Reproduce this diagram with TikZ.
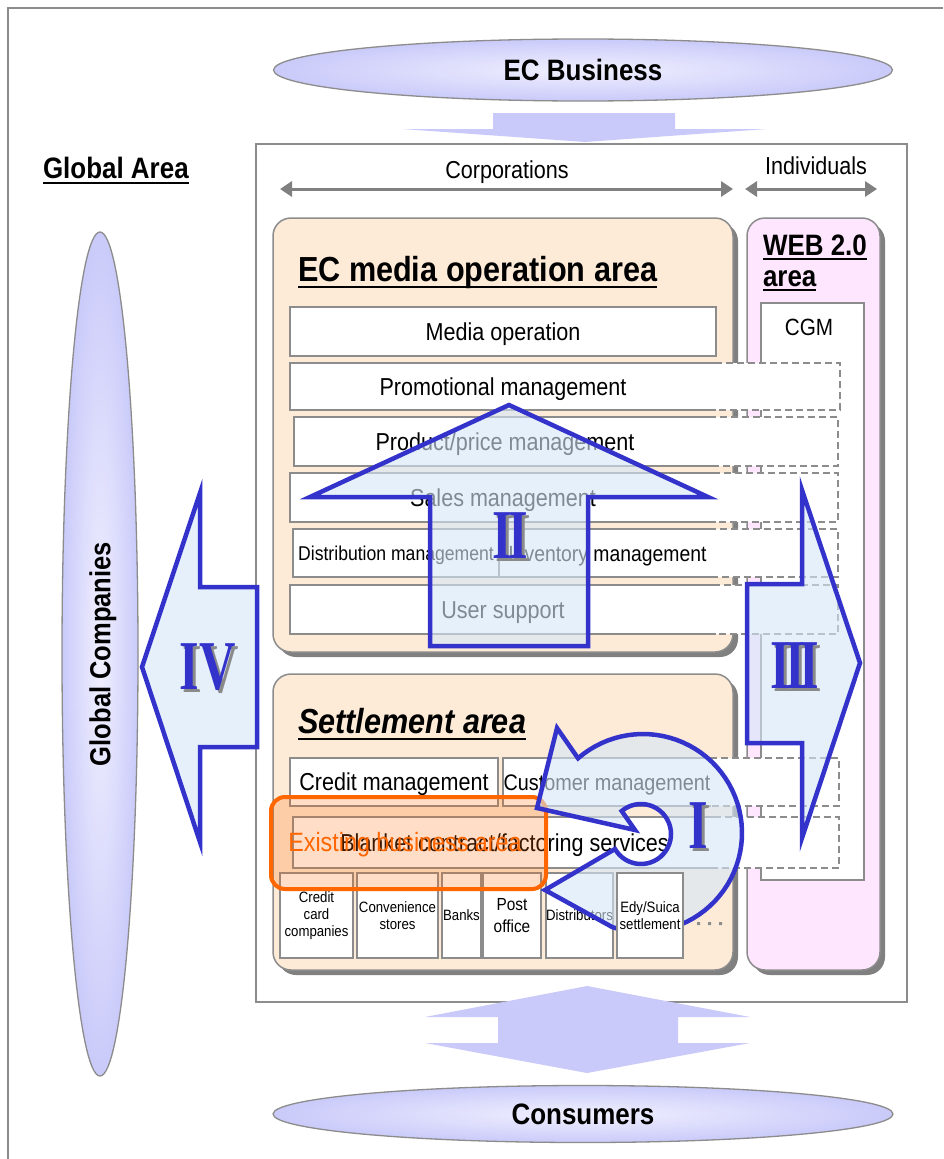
\documentclass[tikz,border=0pt]{standalone}
\usepackage{fontspec}
\setmainfont{Liberation Sans}[FakeStretch=0.88]
\newfontfamily\romanfont{Liberation Serif}[FakeStretch=0.72]
\usetikzlibrary{shapes.geometric,arrows.meta,shadows}

\definecolor{lav}{HTML}{CACAFA}
\definecolor{lavlight}{HTML}{F0F0FF}
\definecolor{peach}{HTML}{FDEBD8}
\definecolor{pinkarea}{HTML}{FFE6FF}
\definecolor{edgegray}{HTML}{8C8C8C}
\definecolor{shadowgray}{HTML}{808080}
\definecolor{arrowblue}{HTML}{3333CC}
\definecolor{arrowfill}{HTML}{D5E6F7}
\definecolor{exorange}{HTML}{FF6600}
\definecolor{numshadow}{HTML}{8A8A8A}

% a node spanning the rectangle (x0,y0)-(x1,y1), in picture units
\newcommand\spannode[6]{%
  \node[#1, minimum width={(#5-#3)*1pt}, minimum height={(#6-#4)*1pt}]
    (#2) at ({(#3+#5)/2},{(#4+#6)/2})}
% solid top, left and bottom edges of a row that continues to the right
\newcommand\openedge[1]{%
  \draw[rowedge] (#1.north east) -- (#1.north west) -- (#1.south west) -- (#1.south east);}

\tikzset{
  every node/.style={inner sep=0pt, outer sep=0pt},
  txt/.style={font=\fontsize{24.5}{28}\selectfont, text height=19.6pt, text depth=2pt},
  txtm/.style={font=\fontsize{22.5}{26}\selectfont, text height=18pt, text depth=1.9pt},
  txtd/.style={font=\fontsize{20}{24}\selectfont, text height=16pt, text depth=1.7pt},
  txtsm/.style={font=\fontsize{15}{17}\selectfont, align=center},
  txtpo/.style={font=\fontsize{17.5}{22}\selectfont, align=center},
  headtxt/.style={font=\bfseries\fontsize{29.5}{34}\selectfont, text height=23.6pt, text depth=2.5pt},
  areatitle/.style={font=\bfseries\fontsize{34.8}{40}\selectfont, anchor=base west},
  settitle/.style={font=\bfseries\itshape\fontsize{34.8}{40}\selectfont, anchor=base west},
  webtitle/.style={font=\bfseries\fontsize{29.5}{34}\selectfont, anchor=base west},
  cell/.style={draw=edgegray, line width=1.5pt, fill=white},
  rowedge/.style={draw=edgegray, line width=1.5pt},
  extcell/.style={draw=edgegray, line width=1.5pt, dash pattern=on 7pt off 4pt, fill=white},
  area/.style={draw=edgegray, line width=1.5pt, rounded corners=18pt,
    drop shadow={shadow xshift=5pt, shadow yshift=-5pt, fill=shadowgray, opacity=1}},
  globe/.style={ellipse, draw=edgegray, line width=1.3pt, inner color=lavlight, outer color=lav},
  blockarrow/.style={draw=arrowblue, line width=4.5pt, line join=miter, miter limit=20,
    fill=arrowfill, fill opacity=0.6},
  lavarrow/.style={fill=lav},
  span/.style={draw=shadowgray, line width=3pt, <->, >={Triangle[length=12pt,width=15pt]}},
  ul/.style={line width=2.2pt},
  numeral/.style={font=\romanfont\bfseries\fontsize{70}{70}\selectfont,
    text height=46pt, text depth=0pt, text=arrowblue},
  numeralshadow/.style={numeral, text=numshadow},
  exist/.style={draw=exorange, line width=4pt, rounded corners=14pt, fill=exorange, fill opacity=0.22},
}

\begin{document}
\begin{tikzpicture}[x=1pt,y=-1pt]
\useasboundingbox (0,0) rectangle (943,1159);
\fill[white] (0,0) rectangle (943,1159);
% outer frame
\draw[edgegray, line width=1.5pt] (943,8) -- (8,8) -- (8,1159);

% EC business on top, flowing down into the stage
\node[globe, headtxt, minimum width=619pt, minimum height=62pt] (ecbiz) at (583,70) {EC Business};
\fill[lavarrow] (493,113) -- (675,113) -- (675,129) -- (767,129) -- (585,142) -- (402,129) -- (493,129) -- cycle;

\node[webtitle] (globalarea) at (43,178) {Global Area};
\draw[ul] ([yshift=-5pt]globalarea.base west) -- ([yshift=-5pt]globalarea.base east);

\node[globe, rotate=90, font=\bfseries\fontsize{29}{34}\selectfont, text height=23pt, text depth=2.4pt,
  minimum width=844pt, minimum height=76pt] (globalco) at (100,654) {Global Companies};

% the stage
\spannode{draw=edgegray, line width=1.5pt, fill=white}{stage}{256}{144}{907}{1002} {};

% consumers exchange
\fill[lavarrow] (587,986) -- (750,1017) -- (678,1017) -- (678,1043) -- (750,1043) -- (587,1073)
  -- (425,1043) -- (498,1043) -- (498,1017) -- (425,1017) -- cycle;
\node[globe, headtxt, minimum width=620pt, minimum height=57pt] (consumers) at (583,1114) {Consumers};

% corporations / individuals spans
\coordinate (corpL) at (280,189);
\coordinate (corpR) at (733,189);
\coordinate (indL) at (745,189);
\coordinate (indR) at (877,189);
\draw[span] (corpL) -- (corpR);
\draw[span] (indL) -- (indR);
\node[txt] (corp) at (507,170) {Corporations};
\node[txt] (indiv) at (816,166) {Individuals};

% areas
\spannode{area, fill=peach}{mediaarea}{273}{218}{733}{652} {};
\spannode{area, fill=pinkarea}{webarea}{747}{218}{880}{970} {};
\spannode{area, fill=peach}{settlearea}{273}{674}{733}{970} {};

\node[areatitle] (mediatitle) at (298,281) {EC media operation area};
\draw[ul] ([yshift=-6pt]mediatitle.base west) -- ([yshift=-6pt]mediatitle.base east);
\node[settitle] (settletitle) at (298,733) {Settlement area};
\draw[ul] ([yshift=-6pt]settletitle.base west) -- ([yshift=-6pt]settletitle.base east);
\node[webtitle] (webtitle1) at (763,255) {WEB 2.0};
\draw[ul] ([yshift=-4pt]webtitle1.base west) -- ([yshift=-4pt]webtitle1.base east);
\node[webtitle] (webtitle2) at (763,286) {area};
\draw[ul] ([yshift=-4pt]webtitle2.base west) -- ([yshift=-4pt]webtitle2.base east);

\spannode{cell}{cgm}{761}{303}{864}{880} {};
\node[txt, font=\fontsize{23.5}{27}\selectfont] (cgmtxt) at (809,327) {CGM};

% media operation rows
\spannode{cell, txt}{media}{290}{307}{716}{356} {Media operation};
\spannode{extcell}{promoext}{290}{363}{840}{410} {};
\spannode{txt}{promo}{290}{363}{716}{410} {Promotional management};
\openedge{promo}
\spannode{extcell}{productext}{294}{417}{838}{466} {};
\spannode{txt}{product}{294}{417}{716}{466} {Product/price management};
\openedge{product}
\spannode{extcell}{salesext}{290}{473}{838}{522} {};
\spannode{txt}{sales}{290}{473}{716}{522} {Sales management};
\openedge{sales}
\spannode{extcell}{distext}{293}{529}{838}{577} {};
\spannode{cell, txtd}{distrib}{293}{529}{499}{577} {Distribution management};
\spannode{txt, font=\fontsize{22}{26}\selectfont}{inventory}{499}{529}{716}{577} {Inventory management};
\openedge{inventory}
\spannode{extcell}{userext}{290}{585}{838}{634} {};
\spannode{txt}{user}{290}{585}{716}{634} {User support};
\openedge{user}

% settlement rows
\spannode{cell, txt}{credit}{290}{758}{498}{806} {Credit management};
\spannode{extcell}{custext}{503}{758}{839}{806} {};
\spannode{txtm}{customer}{503}{758}{711}{806} {Customer management};
\openedge{customer}
\spannode{extcell}{blanketext}{293}{817}{839}{868} {};
\spannode{txt}{blanket}{293}{817}{716}{868} {Blanket contract/factoring services};
\openedge{blanket}

\spannode{cell, txtsm}{cardco}{280}{873}{353}{958} {Credit\\card\\companies};
\spannode{cell, txtsm}{conv}{357}{873}{438}{958} {Convenience\\stores};
\spannode{cell, txtsm}{banks}{442}{873}{481}{958} {Banks};
\spannode{cell, txtpo}{post}{483}{873}{541}{958} {Post\\office};
\spannode{cell, txtsm}{distributors}{546}{873}{613}{958} {Distributors};

% existing business
\spannode{exist}{existing}{271}{797}{546}{889} {};
\node[font=\fontsize{26.5}{30}\selectfont, text height=21pt, text depth=2pt, text=exorange] (existtxt) at (405,842) {Existing business area};

% development arrows
\draw[blockarrow] (509,405) -- (708,497) -- (588,497) -- (588,646) -- (430,646) -- (430,497) -- (310,497) -- cycle;
\draw[blockarrow] (747,584) -- (802,584) -- (802,490) -- (860,663) -- (802,838) -- (802,743) -- (747,743) -- cycle;
\draw[blockarrow] (142,667) -- (200,493) -- (200,587) -- (257,587) -- (257,747) -- (200,747) -- (200,842) -- cycle;
\draw[blockarrow] (557,728) -- plot[domain=-131:108, samples=60] ({643+99*cos(\x)},{833+99*sin(\x)})
  -- (545,890) -- plot[domain=150:-130, samples=40] ({641+30*cos(\x)},{834+30*sin(\x)})
  -- (635,830) -- (537,808) -- cycle;

\spannode{cell, txtsm}{edy}{617}{873}{683}{958} {Edy/Suica\\settlement};
\fill[edgegray] (697,922) rectangle (700,925) (708,922) rectangle (711,925) (719,922) rectangle (722,925);

% numerals
\node[numeralshadow] (n1s) at (701,828) {I};
\node[numeral] (n1) at (698,825) {I};
\node[numeralshadow] (n2s) at (513,538) {I\kern-4pt I};
\node[numeral] (n2) at (510,535) {I\kern-4pt I};
\node[numeralshadow] (n3s) at (798,668) {I\kern-5pt I\kern-5pt I};
\node[numeral] (n3) at (795,665) {I\kern-5pt I\kern-5pt I};
\node[numeralshadow] (n4s) at (211,669) {IV};
\node[numeral] (n4) at (208,666) {IV};
\end{tikzpicture}
\end{document}
